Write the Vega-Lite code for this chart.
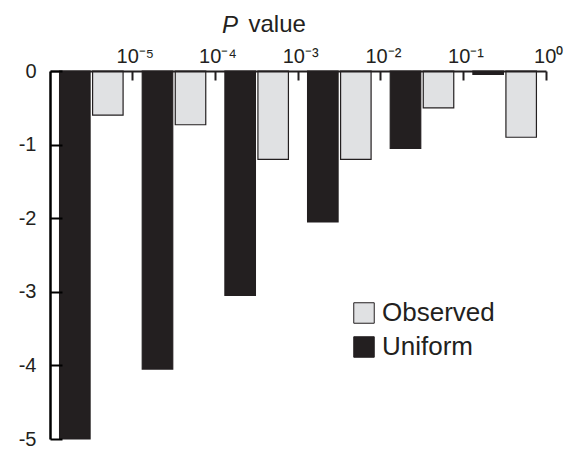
{
  "$schema": "https://vega.github.io/schema/vega-lite/v6.json",
  "width": 496,
  "height": 368,
  "autosize": {"type": "none"},
  "padding": {"left": 50, "top": 71, "right": 23, "bottom": 16},
  "background": "white",
  "title": {
    "text": "P",
    "font": "Liberation Sans",
    "fontSize": 24,
    "fontStyle": "italic",
    "fontWeight": "normal",
    "color": "#231f20",
    "anchor": "start",
    "frame": "group",
    "orient": "top",
    "dx": 172,
    "dy": 45,
    "offset": 0,
    "baseline": "alphabetic"
  },
  "data": {
    "values": [
      {"bin": "10⁻⁵", "series": "Uniform", "log10": -5.0},
      {"bin": "10⁻⁵", "series": "Observed", "log10": -0.6},
      {"bin": "10⁻⁴", "series": "Uniform", "log10": -4.05},
      {"bin": "10⁻⁴", "series": "Observed", "log10": -0.73},
      {"bin": "10⁻³", "series": "Uniform", "log10": -3.05},
      {"bin": "10⁻³", "series": "Observed", "log10": -1.2},
      {"bin": "10⁻²", "series": "Uniform", "log10": -2.05},
      {"bin": "10⁻²", "series": "Observed", "log10": -1.2},
      {"bin": "10⁻¹", "series": "Uniform", "log10": -1.05},
      {"bin": "10⁻¹", "series": "Observed", "log10": -0.5},
      {"bin": "10⁰", "series": "Uniform", "log10": -0.046},
      {"bin": "10⁰", "series": "Observed", "log10": -0.9}
    ]
  },
  "mark": {"type": "bar", "stroke": "#231f20", "strokeWidth": 1.2},
  "encoding": {
    "x": {
      "field": "bin",
      "type": "nominal",
      "sort": null,
      "scale": {"paddingInner": 0, "paddingOuter": 0},
      "axis": {
        "orient": "top",
        "title": "value",
        "titleFont": "Liberation Sans",
        "titleFontSize": 24,
        "titleFontWeight": "normal",
        "titleColor": "#231f20",
        "titleAlign": "left",
        "titleBaseline": "alphabetic",
        "titleAnchor": null,
        "titleX": 198,
        "titleY": -40,
        "bandPosition": 1,
        "labelOffset": 44,
        "labelAngle": 0,
        "labelFont": "Liberation Sans",
        "labelFontSize": 20,
        "labelColor": "#231f20",
        "labelPadding": 14,
        "domain": true,
        "ticks": true,
        "tickSize": -9,
        "tickWidth": 2,
        "tickColor": "#231f20",
        "domainColor": "#231f20",
        "domainWidth": 2,
        "grid": false,
        "zindex": 1
      }
    },
    "xOffset": {
      "field": "series",
      "type": "nominal",
      "sort": ["Uniform", "Observed"],
      "scale": {"paddingInner": 0.076, "paddingOuter": 0.29}
    },
    "y": {
      "field": "log10",
      "type": "quantitative",
      "scale": {"domain": [-5, 0], "nice": false},
      "axis": {
        "title": null,
        "values": [0, -1, -2, -3, -4, -5],
        "labelExpr": "'' + datum.value",
        "labelFont": "Liberation Sans",
        "labelFontSize": 20,
        "labelColor": "#231f20",
        "labelPadding": 26,
        "domain": true,
        "ticks": true,
        "tickSize": -12,
        "tickWidth": 2,
        "tickColor": "black",
        "domainColor": "black",
        "domainWidth": 2.5,
        "grid": false,
        "zindex": 1
      }
    },
    "color": {
      "field": "series",
      "type": "nominal",
      "scale": {"domain": ["Observed", "Uniform"], "range": ["#e0e1e3", "#231f20"]},
      "legend": {
        "title": null,
        "orient": "none",
        "legendX": 301,
        "legendY": 229,
        "padding": 0,
        "symbolType": "square",
        "symbolSize": 420,
        "symbolStrokeColor": "#231f20",
        "symbolStrokeWidth": 1,
        "labelFont": "Liberation Sans",
        "labelFontSize": 26,
        "labelColor": "#231f20",
        "labelOffset": 5,
        "rowPadding": 8
      }
    }
  },
  "config": {
    "view": {"stroke": null}
  }
}
